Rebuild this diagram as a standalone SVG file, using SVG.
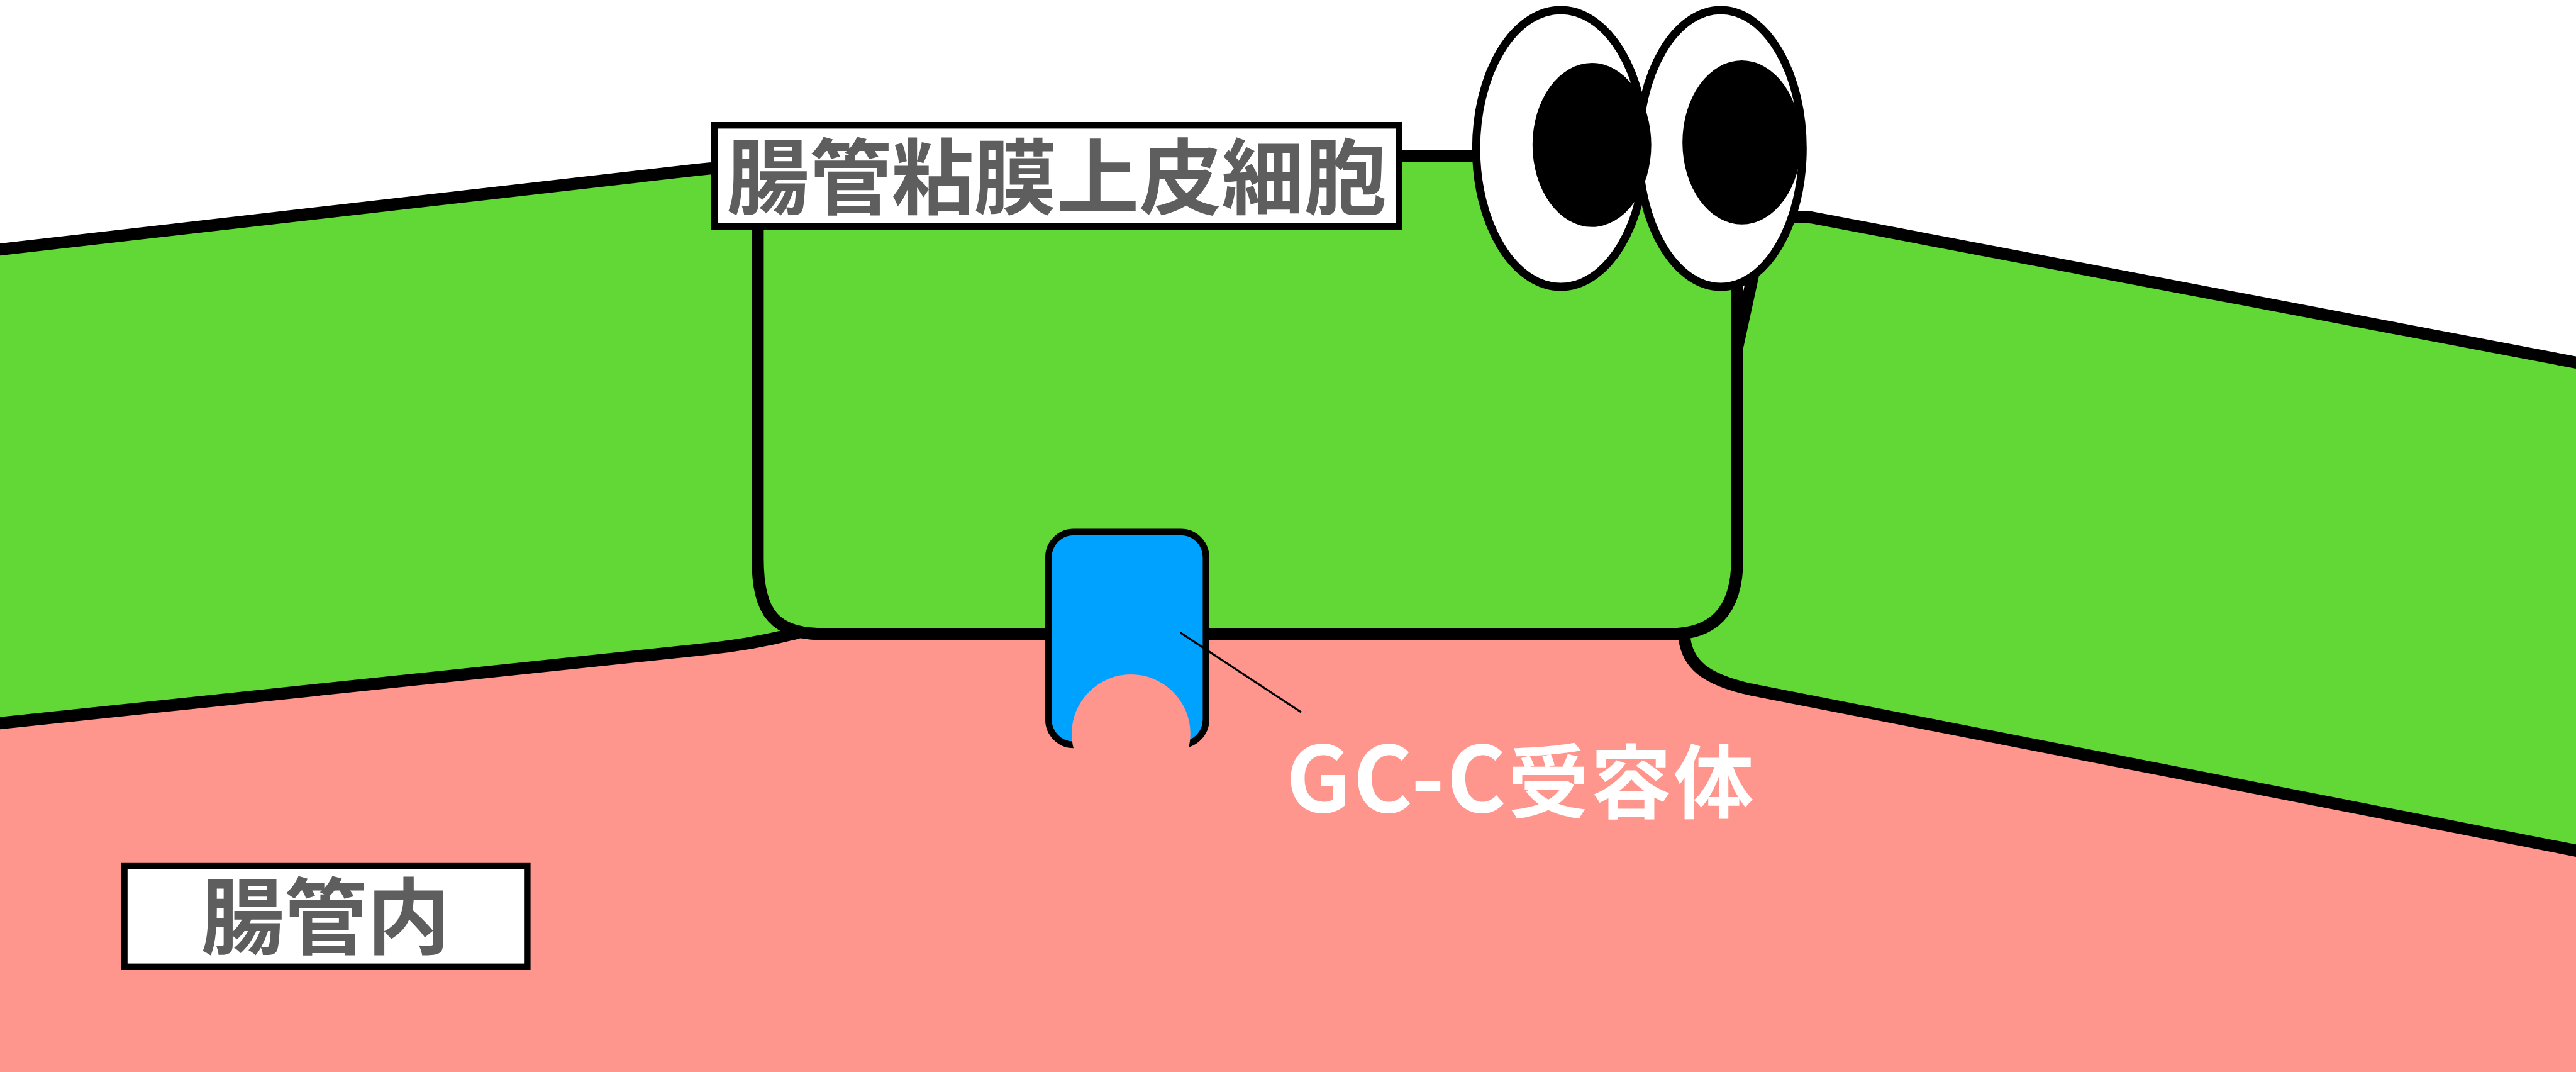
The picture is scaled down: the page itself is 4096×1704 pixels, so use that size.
<svg xmlns="http://www.w3.org/2000/svg" width="4096" height="1704" viewBox="0 0 4096 1704">
  <defs>
    <style>
      .edge { fill: none; stroke: #000; stroke-width: 24; stroke-linejoin: round; stroke-linecap: round; }
      .tissue { fill: #61D836; }
      .lumen { fill: #FF968D; }
      .tag-box { fill: #fff; stroke: #000; stroke-width: 13; }
      .tag-text { font-family: "Noto Sans CJK JP", "Noto Sans CJK SC", sans-serif; font-weight: bold; fill: #5E5E5E; text-anchor: middle; }
      .eye-white { fill: #fff; stroke: #000; stroke-width: 16; }
      .pupil { fill: #000; }
    </style>
  </defs>
  <g transform="scale(0.8)">
    <!-- background: white above, intestinal lumen below -->
    <rect x="0" y="0" width="5120" height="2130" fill="#fff"/>
    <rect class="lumen" x="0" y="1150" width="5120" height="980"/>

    <!-- neighbouring cell on the left -->
    <g id="cell-left">
      <path class="tissue" d="M -20 498 L 1380 338 Q 1410 334 1440 334 L 1600 334 L 1600 1255 L 1580 1258 Q 1500 1280 1400 1290 L -20 1439 Z"/>
      <path class="edge" d="M -20 498 L 1380 338 Q 1410 334 1440 334"/>
      <path class="edge" d="M -20 1439 L 1400 1290 Q 1500 1280 1590 1256"/>
    </g>

    <!-- neighbouring cell on the right -->
    <g id="cell-right">
      <path class="tissue" d="M 3453 1120 L 3453 690 L 3490 520 C 3505 445 3540 425 3600 432 L 5150 726 L 5150 1696 L 3480 1370 C 3390 1350 3350 1320 3347 1255 L 3340 1200 Z"/>
      <path class="edge" d="M 3453 690 L 3490 520 C 3505 445 3540 425 3600 432 L 5150 726"/>
      <path class="edge" d="M 3347 1258 C 3350 1320 3390 1350 3480 1370 L 5150 1696"/>
    </g>

    <!-- central epithelial cell -->
    <g id="cell-center">
      <path class="tissue edge" style="fill:#61D836" d="M 1506 310 L 3453 310 L 3453 1110 C 3453 1220 3400 1260 3320 1260 L 1640 1260 C 1540 1260 1506 1220 1506 1110 Z"/>
    </g>

    <!-- GC-C receptor in the apical membrane -->
    <g id="receptor">
      <rect x="2084" y="1057" width="313" height="423" rx="50" ry="50" fill="#00A2FF" stroke="#000" stroke-width="13"/>
      <circle class="lumen" cx="2248" cy="1458" r="118"/>
    </g>

    <!-- leader line to the receptor label -->
    <g id="connectors">
      <line x1="2346" y1="1257" x2="2586" y2="1415" stroke="#000" stroke-width="4"/>
    </g>

    <g id="receptor-label">
      <text x="2556" y="1614" textLength="930" font-family="'Noto Sans CJK JP', 'Noto Sans CJK SC', sans-serif" font-weight="bold" fill="#fff"><tspan font-size="180">GC-C</tspan><tspan font-size="160">受容体</tspan></text>
    </g>

    <!-- name tags -->
    <g id="label-epithelium">
      <rect class="tag-box" x="1420" y="249" width="1361" height="201"/>
      <text class="tag-text" x="2100" y="412" font-size="164">腸管粘膜上皮細胞</text>
    </g>
    <g id="label-lumen">
      <rect class="tag-box" x="247" y="1720" width="801" height="201"/>
      <text class="tag-text" x="647" y="1883" font-size="165">腸管内</text>
    </g>

    <!-- googly eyes -->
    <g id="eyes">
      <ellipse class="eye-white" cx="3102" cy="295" rx="168" ry="275"/>
      <ellipse class="eye-white" cx="3420" cy="295" rx="163" ry="275"/>
      <ellipse class="pupil" cx="3164" cy="288" rx="118" ry="163"/>
      <ellipse class="pupil" cx="3462" cy="283" rx="118" ry="163"/>
    </g>
  </g>
</svg>
